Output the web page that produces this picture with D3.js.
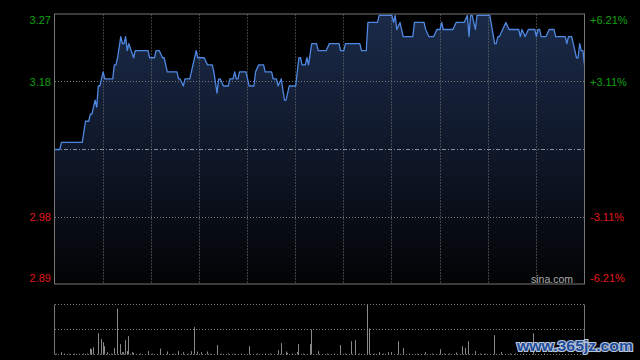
<!DOCTYPE html>
<html>
<head>
<meta charset="utf-8">
<script src="https://cdn.jsdelivr.net/npm/d3@7"></script>
<style>
  body { margin: 0; background: #000; }
  svg { display: block; }
  text { font-family: "Liberation Sans", Arial, sans-serif; }
</style>
</head>
<body>
<svg id="chart" width="640" height="360"></svg>
<script>
// intraday price, minutes from 9:30 (HK session, 330 trading minutes)
const minutes = [0,3,4,17,19,21,22,23,24,25,26,27,28,29,30,31,36,37,38,39,41,42,43,44,45,46,49,50,58,59,62,63,65,67,68,70,76,77,78,80,81,84,88,89,93,95,98,99,101,102,103,105,108,109,111,112,113,114,115,119,121,124,125,127,130,131,135,136,138,139,141,143,144,146,150,152,153,154,156,157,158,160,163,164,169,171,177,178,180,181,190,191,194,195,201,202,210,211,212,213,215,217,223,224,230,231,233,236,238,240,241,242,248,250,255,257,258,259,260,262,263,271,274,275,276,277,279,281,283,289,290,291,293,295,299,300,301,302,303,306,308,311,312,318,319,320,322,323,324,325,326,327,328,329,330];
const prices = [3.08,3.08,3.09,3.09,3.12,3.12,3.13,3.13,3.14,3.15,3.14,3.17,3.17,3.18,3.19,3.18,3.18,3.20,3.20,3.21,3.24,3.23,3.23,3.24,3.22,3.23,3.21,3.22,3.22,3.21,3.21,3.22,3.22,3.21,3.21,3.19,3.19,3.18,3.18,3.17,3.18,3.18,3.22,3.21,3.21,3.20,3.20,3.19,3.16,3.18,3.18,3.17,3.17,3.18,3.18,3.19,3.18,3.18,3.19,3.19,3.17,3.17,3.19,3.20,3.20,3.19,3.19,3.18,3.18,3.17,3.18,3.15,3.15,3.17,3.17,3.21,3.21,3.20,3.20,3.21,3.20,3.23,3.23,3.22,3.22,3.23,3.23,3.22,3.22,3.23,3.23,3.22,3.22,3.26,3.26,3.27,3.27,3.26,3.27,3.25,3.26,3.24,3.24,3.26,3.26,3.25,3.24,3.24,3.25,3.25,3.26,3.25,3.25,3.26,3.26,3.27,3.24,3.27,3.27,3.25,3.27,3.27,3.23,3.23,3.24,3.24,3.25,3.26,3.25,3.25,3.24,3.25,3.24,3.25,3.25,3.24,3.25,3.25,3.24,3.24,3.25,3.25,3.24,3.24,3.23,3.24,3.24,3.23,3.22,3.21,3.21,3.23,3.22,3.22,3.20];

// volume, relative to the biggest bar
const volMinutes = [1,4,6,9,12,15,18,20,22,23,24,27,29,30,31,33,35,37,39,41,42,43,44,45,46,48,49,53,58,61,66,70,74,77,80,83,85,87,89,91,95,97,101,104,108,112,116,121,126,131,134,139,141,144,145,148,151,152,155,159,160,164,170,174,178,181,185,187,190,195,196,199,202,205,208,210,214,217,221,226,231,235,240,243,246,250,254,256,258,262,265,268,274,278,284,287,292,298,305];
const volumes = [2,4.7,2,1.5,2,1.5,2,2,12,10.7,14.7,42.7,30.7,24.7,16.7,4.7,2,12.7,92,20.7,4.7,4.7,28.7,6.7,36.7,4.7,3.3,2,6.7,2,12,6,2,6.7,4.7,2,6.7,54.7,6,4.7,6,2,18.7,2,2,2,2,16.7,2,2,2,8.7,22.7,6,3.3,2,4.7,20.7,2,20.7,50,6.7,2,2,18.7,2,26.7,28.7,2,100,52,2,4.7,2,4.7,4.7,26.7,12.7,2,2,4.7,2,10.7,2,2,4,16.7,12.7,26.7,6.7,2,2,38.7,4.7,2,2,2,42.7,2];

const prevClose = 3.08;
const pctSteps = [0.0621, 0.0311, -0.0311, -0.0621];
const priceLabels = ["3.27", "3.18", "2.98", "2.89"];
const pctLabels = ["+6.21%", "+3.11%", "-3.11%", "-6.21%"];

const svg = d3.select("#chart");
const pLeft = 55, pRight = 584.5, pTop = 14.5, pBottom = 284.5;
const vTop = 304.5, vBottom = 354.5;

const x = d3.scaleLinear().domain([0, 330]).range([pLeft, pRight]);
const y = d3.scaleLinear()
    .domain([prevClose * (1 - 0.0621), prevClose * (1 + 0.0621)])
    .range([pBottom, pTop]);
const yv = d3.scaleLinear().domain([0, d3.max(volumes)]).range([vBottom, vTop]);

const data = minutes.map((m, i) => ({ m, p: prices[i] }));
const vols = volMinutes.map((m, i) => ({ m, v: volumes[i] }));

// gradient under the line
const grad = svg.append("defs").append("linearGradient")
    .attr("id", "fill").attr("x1", 0).attr("y1", 0).attr("x2", 0).attr("y2", 1);
grad.append("stop").attr("offset", "0%").attr("stop-color", "#1a2a48");
grad.append("stop").attr("offset", "55%").attr("stop-color", "#0e1626");
grad.append("stop").attr("offset", "100%").attr("stop-color", "#020304");

const area = d3.area().x(d => x(d.m)).y0(pBottom).y1(d => y(d.p));
svg.append("path").datum(data)
    .attr("d", area)
    .attr("fill", "url(#fill)");

// grid
const crisp = v => Math.round(v - 0.5) + 0.5;
const grid = svg.append("g").attr("stroke", "#7a7a7a").attr("stroke-width", 1)
    .attr("stroke-dasharray", "1,2").attr("fill", "none");
d3.range(30, 330, 30).forEach(m => {
    grid.append("line").attr("x1", crisp(x(m))).attr("x2", crisp(x(m)))
        .attr("y1", pTop).attr("y2", pBottom);
});
pctSteps.forEach(s => {
    const yy = crisp(y(prevClose * (1 + s)));
    if (yy > pTop + 1 && yy < pBottom - 1)
        grid.append("line").attr("x1", pLeft).attr("x2", pRight).attr("y1", yy).attr("y2", yy);
});
svg.append("line")
    .attr("x1", pLeft).attr("x2", pRight)
    .attr("y1", crisp(y(prevClose))).attr("y2", crisp(y(prevClose)))
    .attr("stroke", "#8a8f99").attr("stroke-dasharray", "4,2,1,2");

// price line
const line = d3.line().x(d => x(d.m)).y(d => y(d.p));
svg.append("path").datum(data)
    .attr("d", line)
    .attr("fill", "none")
    .attr("stroke", "#4f88e2")
    .attr("stroke-width", 1.3)
    .attr("stroke-linejoin", "round");

// frame
svg.append("rect")
    .attr("x", pLeft - 0.5).attr("y", pTop - 0.5)
    .attr("width", pRight - pLeft + 0.5).attr("height", pBottom - pTop)
    .attr("fill", "none").attr("stroke", "#777");

// axis labels
const clampY = v => Math.min(Math.max(v, 20), 278);
pctSteps.forEach((s, i) => {
    const yy = clampY(y(prevClose * (1 + s)));
    const col = s > 0 ? "#10a010" : "#e01818";
    svg.append("text").attr("x", 51).attr("y", yy).attr("dy", "0.35em")
        .attr("text-anchor", "end").attr("font-size", 11).attr("fill", col)
        .text(priceLabels[i]);
    svg.append("text").attr("x", 590).attr("y", yy).attr("dy", "0.35em")
        .attr("text-anchor", "start").attr("font-size", 11).attr("fill", col)
        .text(pctLabels[i]);
});

svg.append("text").attr("x", 573).attr("y", 283)
    .attr("text-anchor", "end").attr("font-size", 10.5).attr("fill", "#aaa")
    .text("sina.com");

// volume panel
const vg = svg.append("g").attr("stroke", "#7a7a7a").attr("stroke-dasharray", "1,2");
[vTop, (vTop + vBottom) / 2, vBottom].forEach(yy => {
    vg.append("line").attr("x1", pLeft).attr("x2", pRight)
        .attr("y1", crisp(yy)).attr("y2", crisp(yy));
});
svg.append("line").attr("x1", pLeft - 0.5).attr("x2", pLeft - 0.5)
    .attr("y1", vTop).attr("y2", vBottom).attr("stroke", "#777");
svg.append("line").attr("x1", pRight).attr("x2", pRight)
    .attr("y1", vTop).attr("y2", vBottom).attr("stroke", "#777");

svg.append("g").selectAll("line")
    .data(vols)
    .enter()
    .append("line")
    .attr("x1", d => crisp(x(d.m))).attr("x2", d => crisp(x(d.m)))
    .attr("y1", vBottom).attr("y2", d => yv(d.v))
    .attr("stroke", "#888").attr("stroke-width", 1);

// watermark
svg.append("text")
    .attr("x", 517).attr("y", 351)
    .attr("font-family", "'DejaVu Sans', sans-serif")
    .attr("font-weight", "bold").attr("font-size", 15)
    .attr("textLength", 116).attr("lengthAdjust", "spacingAndGlyphs")
    .attr("fill", "#1f4c98").attr("stroke", "#b8c6dc").attr("stroke-width", 2.2)
    .attr("paint-order", "stroke")
    .text("www.365jz.com");
</script>
</body>
</html>
